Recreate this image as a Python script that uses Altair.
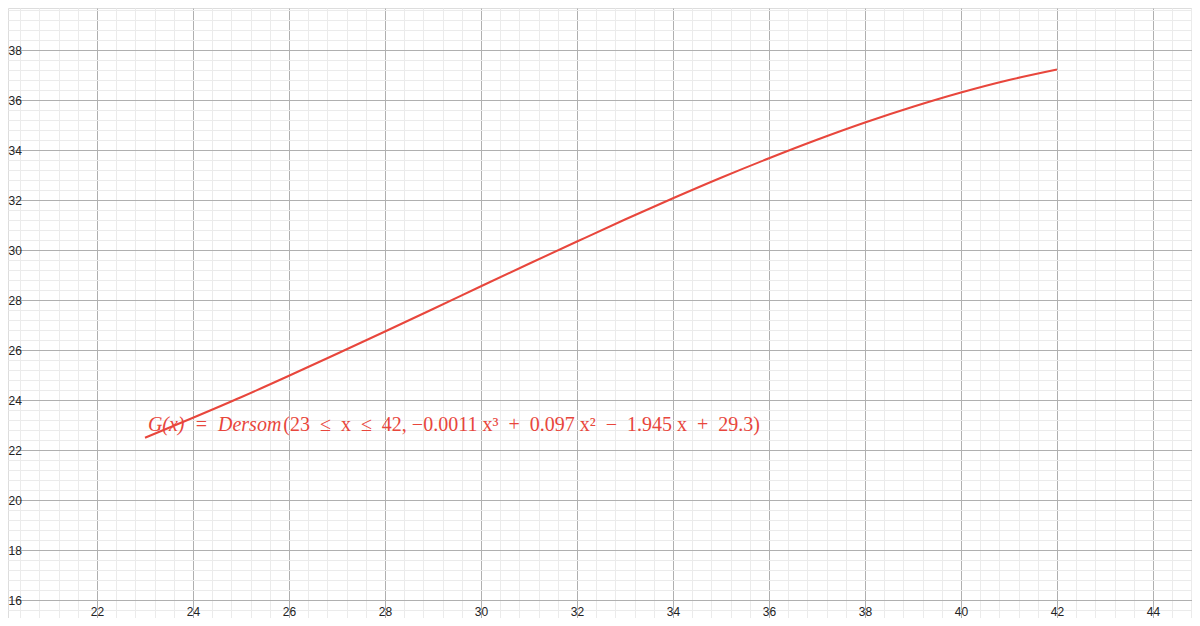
import altair as alt
import pandas as pd

# curve values
xs = [23, 24, 25, 26, 27, 28, 29, 30, 31, 32, 33, 34, 35, 36, 37, 38, 39, 40, 41, 42]
ys = [22.49, 23.29, 24.11, 24.97, 25.85, 26.74, 27.64, 28.55, 29.45, 30.34,
      31.22, 32.07, 32.89, 33.67, 34.41, 35.10, 35.73, 36.30, 36.80, 37.22]

# annotation (two parts: italic name, upright arguments); en spaces keep LaTeX-like spacing
S = "\u2002"
name_text = [f"G(x){S}={S}Dersom"]
name_x = [23.06]
args_text = [f"(23{S}≤{S}x{S}≤{S}42, −0.0011 x³{S}+{S}0.097 x²{S}−{S}1.945 x{S}+{S}29.3)"]
args_x = [25.88]
label_y = [22.78]

x_ticks = [round(20.4 + 0.4 * i, 1) for i in range(62)]
y_ticks = [round(15.6 + 0.4 * i, 1) for i in range(61)]

RED = "#e8463c"
even = "abs(datum.value/2 - round(datum.value/2)) < 0.01"
grid_color = {"condition": {"test": even, "value": "#b0b0b0"}, "value": "#ebebeb"}
lab = f"{even} ? format(datum.value, 'd') : ''"

curve = pd.DataFrame({"x": xs, "y": ys})
ann1 = pd.DataFrame({"x": name_x, "y": label_y, "t": name_text})
ann2 = pd.DataFrame({"x": args_x, "y": label_y, "t": args_text})

xscale = alt.Scale(domain=[20.1458, 44.8125], nice=False, zero=False)
yscale = alt.Scale(domain=[15.28, 39.68], nice=False, zero=False)

xaxis = alt.Axis(values=x_ticks, tickCount=500, grid=True, gridColor=grid_color, gridWidth=1,
                 domain=False, ticks=False, labelExpr=lab, title=None,
                 offset=-14, labelPadding=2, labelFontSize=12, labelColor="#222",
                 labelFont="Liberation Sans", labelOverlap=False, labelFlush=False)
yaxis = alt.Axis(values=y_ticks, tickCount=500, grid=True, gridColor=grid_color, gridWidth=1,
                 domain=False, ticks=False, labelExpr=lab, title=None,
                 labelAlign="left", labelPadding=0, labelFontSize=12, labelColor="#222",
                 labelFont="Liberation Sans", labelOverlap=False, labelFlush=False)

line = alt.Chart(curve).mark_line(color=RED, strokeWidth=2, interpolate="monotone").encode(
    x=alt.X("x:Q", scale=xscale, axis=xaxis),
    y=alt.Y("y:Q", scale=yscale, axis=yaxis),
)

text1 = alt.Chart(ann1).mark_text(color=RED, font="Liberation Serif", fontStyle="italic",
                                  fontSize=20, align="left", baseline="alphabetic").encode(
    x=alt.X("x:Q", scale=xscale),
    y=alt.Y("y:Q", scale=yscale),
    text="t:N",
)
text2 = alt.Chart(ann2).mark_text(color=RED, font="Liberation Serif",
                                  fontSize=20, align="left", baseline="alphabetic").encode(
    x=alt.X("x:Q", scale=xscale),
    y=alt.Y("y:Q", scale=yscale),
    text="t:N",
)

chart = alt.layer(line, text1, text2).properties(
    width=1184, height=610, padding=0,
    autosize=alt.AutoSizeParams(type="none"),
).configure_view(stroke=None).configure(background="white")

chart.save("out.html", embed_options={"renderer": "svg", "actions": False})
